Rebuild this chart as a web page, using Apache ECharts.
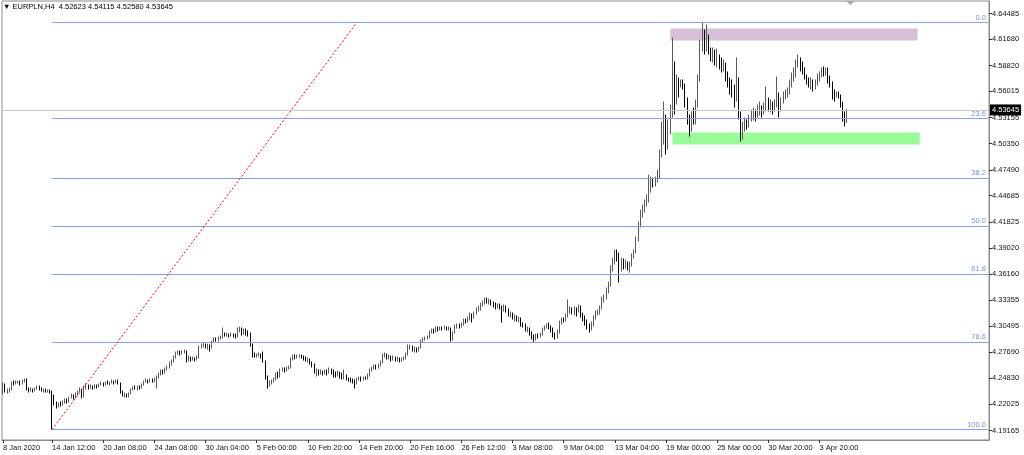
<!DOCTYPE html>
<html><head><meta charset="utf-8">
<script src="https://cdn.jsdelivr.net/npm/echarts@6/dist/echarts.min.js"></script>
<style>html,body{margin:0;padding:0;background:#fff}#c{width:1024px;height:455px}</style>
</head><body><div id="c"></div>
<script>
const symbolName = 'EURPLN,H4';
const timeLabels = ['8 Jan 2020','14 Jan 12:00','20 Jan 08:00','24 Jan 08:00','30 Jan 04:00','5 Feb 00:00','10 Feb 20:00','14 Feb 20:00','20 Feb 16:00','26 Feb 12:00','3 Mar 08:00','9 Mar 04:00','13 Mar 04:00','19 Mar 00:00','25 Mar 00:00','30 Mar 20:00','3 Apr 20:00'];
const timeLabelBars = [0,23,47,71,95,119,143,167,191,215,239,263,287,311,335,359,383];
const totalSlots = 463;
const priceTicks = [4.64485,4.61680,4.58820,4.56015,4.53155,4.50350,4.47490,4.44685,4.41825,4.39020,4.36160,4.33355,4.30495,4.27690,4.24830,4.22025,4.19165];
const priceRange = [4.1813, 4.6584];

const opens = [
4.2329,4.2416,4.2340,4.2351,4.2361,4.2438,4.2427,4.2438,4.2448,4.2427,
4.2459,4.2470,4.2361,4.2351,4.2361,4.2351,4.2372,4.2394,4.2372,4.2351,
4.2361,4.2340,4.2351,4.2340,4.2285,4.2209,4.2188,4.2209,4.2199,4.2220,
4.2242,4.2231,4.2275,4.2296,4.2275,4.2318,4.2340,4.2361,4.2285,4.2372,
4.2405,4.2383,4.2394,4.2383,4.2405,4.2394,4.2416,4.2427,4.2416,4.2438,
4.2427,4.2438,4.2448,4.2438,4.2459,4.2427,4.2340,4.2296,4.2307,4.2285,
4.2318,4.2361,4.2383,4.2372,4.2394,4.2383,4.2416,4.2448,4.2459,4.2448,
4.2470,4.2459,4.2470,4.2492,4.2535,4.2557,4.2546,4.2579,4.2601,4.2644,
4.2666,4.2709,4.2753,4.2764,4.2753,4.2764,4.2774,4.2698,4.2709,4.2688,
4.2698,4.2688,4.2709,4.2818,4.2840,4.2851,4.2829,4.2840,4.2818,4.2883,
4.2905,4.2894,4.2916,4.2927,4.2970,4.2948,4.2959,4.2948,4.2959,4.2948,
4.2937,4.3014,4.3024,4.2970,4.3014,4.2981,4.2959,4.2851,4.2742,4.2720,
4.2731,4.2742,4.2720,4.2666,4.2492,4.2405,4.2438,4.2448,4.2470,4.2525,
4.2503,4.2568,4.2579,4.2568,4.2590,4.2601,4.2688,4.2720,4.2709,4.2720,
4.2731,4.2720,4.2698,4.2677,4.2688,4.2655,4.2622,4.2557,4.2568,4.2546,
4.2557,4.2535,4.2568,4.2546,4.2579,4.2557,4.2535,4.2514,4.2546,4.2525,
4.2492,4.2514,4.2481,4.2470,4.2459,4.2448,4.2427,4.2470,4.2481,4.2470,
4.2492,4.2481,4.2514,4.2568,4.2590,4.2611,4.2601,4.2622,4.2655,4.2720,
4.2742,4.2709,4.2720,4.2698,4.2709,4.2688,4.2698,4.2677,4.2688,4.2698,
4.2742,4.2807,4.2829,4.2796,4.2807,4.2785,4.2818,4.2883,4.2905,4.2916,
4.2927,4.2981,4.3003,4.2992,4.3024,4.3014,4.3035,4.3024,4.3035,4.3014,
4.3024,4.2905,4.2981,4.3046,4.3057,4.3046,4.3068,4.3111,4.3101,4.3133,
4.3166,4.3144,4.3187,4.3231,4.3242,4.3285,4.3307,4.3340,4.3318,4.3329,
4.3296,4.3285,4.3264,4.3274,4.3253,4.3231,4.3264,4.3231,4.3177,4.3187,
4.3144,4.3155,4.3122,4.3133,4.3068,4.3057,4.3014,4.3024,4.2970,4.2937,
4.2905,4.2948,4.2937,4.2959,4.3014,4.3035,4.3057,4.3046,4.3014,4.2959,
4.2927,4.2992,4.3090,4.3122,4.3111,4.3166,4.3209,4.3231,4.3198,4.3242,
4.3209,4.3253,4.3177,4.3144,4.3101,4.3035,4.3014,4.3068,4.3144,4.3187,
4.3198,4.3253,4.3318,4.3361,4.3427,4.3503,4.3666,4.3753,4.3829,4.3796,
4.3687,4.3753,4.3709,4.3742,4.3687,4.3720,4.3807,4.3861,4.3992,4.4155,
4.4263,4.4318,4.4383,4.4426,4.4535,4.4622,4.4589,4.4644,4.4687,4.4915,
4.5078,4.5241,4.5024,4.5187,4.5350,4.5785,4.5513,4.5676,4.5622,4.5709,
4.5665,4.5513,4.5296,4.5187,4.5318,4.5274,4.5459,4.5731,4.6111,4.6220,
4.6057,4.6187,4.6035,4.5970,4.6002,4.5948,4.5991,4.5926,4.5861,4.5894,
4.5752,4.5676,4.5644,4.5600,4.5513,4.5731,4.5350,4.5133,4.5209,4.5252,
4.5231,4.5296,4.5318,4.5350,4.5328,4.5383,4.5405,4.5372,4.5426,4.5513,
4.5426,4.5459,4.5405,4.5448,4.5568,4.5426,4.5491,4.5546,4.5568,4.5600,
4.5676,4.5752,4.5785,4.5894,4.5948,4.5861,4.5839,4.5752,4.5731,4.5676,
4.5709,4.5644,4.5687,4.5752,4.5774,4.5818,4.5785,4.5839,4.5731,4.5665,
4.5568,4.5557,4.5578,4.5546,4.5470,4.5318,4.52623];

const highs = [
4.2438,4.2427,4.2372,4.2383,4.2448,4.2459,4.2459,4.2459,4.2459,4.2470,
4.2481,4.2481,4.2383,4.2383,4.2372,4.2383,4.2405,4.2405,4.2383,4.2372,
4.2372,4.2361,4.2361,4.2351,4.2307,4.2231,4.2220,4.2231,4.2242,4.2264,
4.2264,4.2285,4.2318,4.2307,4.2329,4.2351,4.2383,4.2372,4.2405,4.2427,
4.2416,4.2416,4.2405,4.2416,4.2416,4.2427,4.2448,4.2438,4.2448,4.2459,
4.2448,4.2470,4.2459,4.2470,4.2470,4.2438,4.2351,4.2329,4.2318,4.2329,
4.2372,4.2394,4.2405,4.2405,4.2405,4.2427,4.2459,4.2481,4.2470,4.2481,
4.2481,4.2492,4.2514,4.2546,4.2579,4.2579,4.2601,4.2622,4.2666,4.2688,
4.2731,4.2774,4.2785,4.2785,4.2785,4.2796,4.2785,4.2731,4.2720,4.2720,
4.2709,4.2731,4.2840,4.2861,4.2872,4.2861,4.2861,4.2851,4.2894,4.2927,
4.2927,4.2937,4.2948,4.3035,4.2981,4.2981,4.2970,4.2981,4.2970,4.2970,
4.3035,4.3046,4.3035,4.3024,4.3024,4.3003,4.2981,4.2861,4.2764,4.2753,
4.2764,4.2753,4.2774,4.2677,4.2514,4.2459,4.2470,4.2492,4.2546,4.2557,
4.2590,4.2601,4.2601,4.2611,4.2622,4.2709,4.2742,4.2742,4.2742,4.2742,
4.2742,4.2731,4.2720,4.2709,4.2698,4.2666,4.2644,4.2590,4.2579,4.2579,
4.2568,4.2579,4.2579,4.2601,4.2590,4.2579,4.2557,4.2568,4.2557,4.2546,
4.2579,4.2525,4.2492,4.2492,4.2481,4.2470,4.2492,4.2503,4.2503,4.2503,
4.2503,4.2535,4.2590,4.2611,4.2633,4.2633,4.2644,4.2677,4.2753,4.2764,
4.2753,4.2742,4.2731,4.2731,4.2720,4.2720,4.2709,4.2709,4.2720,4.2764,
4.2851,4.2851,4.2840,4.2829,4.2818,4.2829,4.2905,4.2927,4.2937,4.2948,
4.3003,4.3024,4.3024,4.3046,4.3046,4.3046,4.3046,4.3057,4.3046,4.3046,
4.3035,4.2992,4.3068,4.3079,4.3079,4.3090,4.3133,4.3133,4.3155,4.3198,
4.3187,4.3209,4.3253,4.3274,4.3307,4.3329,4.3361,4.3361,4.3350,4.3340,
4.3318,4.3307,4.3296,4.3296,4.3274,4.3285,4.3274,4.3242,4.3209,4.3198,
4.3177,4.3166,4.3155,4.3144,4.3090,4.3079,4.3046,4.3035,4.2992,4.2959,
4.2970,4.2970,4.2981,4.3035,4.3057,4.3079,4.3090,4.3057,4.3035,4.2981,
4.3014,4.3111,4.3144,4.3144,4.3187,4.3340,4.3264,4.3253,4.3264,4.3253,
4.3285,4.3274,4.3198,4.3166,4.3122,4.3079,4.3101,4.3166,4.3220,4.3231,
4.3274,4.3372,4.3394,4.3470,4.3535,4.3709,4.3796,4.3883,4.3883,4.3850,
4.3796,4.3785,4.3774,4.3753,4.3753,4.3840,4.3883,4.4024,4.4187,4.4318,
4.4372,4.4426,4.4481,4.4698,4.4676,4.4665,4.4676,4.4752,4.4970,4.5274,
4.5491,4.5350,4.5296,4.5459,4.6187,4.5926,4.5785,4.5752,4.5731,4.5731,
4.5687,4.5535,4.5350,4.5383,4.5426,4.5513,4.5785,4.6165,4.6351,4.6274,
4.6328,4.6220,4.6078,4.6078,4.6057,4.6067,4.6002,4.5970,4.5948,4.5915,
4.5818,4.5752,4.5731,4.5676,4.5970,4.5752,4.5383,4.5274,4.5318,4.5296,
4.5350,4.5405,4.5426,4.5405,4.5459,4.5491,4.5448,4.5481,4.5654,4.5535,
4.5513,4.5491,4.5513,4.5763,4.5589,4.5535,4.5600,4.5622,4.5644,4.5731,
4.5807,4.5861,4.5948,4.6002,4.5970,4.5926,4.5861,4.5785,4.5752,4.5752,
4.5731,4.5731,4.5796,4.5818,4.5861,4.5872,4.5861,4.5861,4.5774,4.5709,
4.5622,4.5600,4.5600,4.5568,4.5491,4.5383,4.54115];

const lows = [
4.2307,4.2329,4.2318,4.2329,4.2351,4.2405,4.2416,4.2427,4.2405,4.2416,
4.2438,4.2351,4.2329,4.2340,4.2329,4.2340,4.2361,4.2351,4.2340,4.2329,
4.2329,4.2329,4.2318,4.1927,4.2188,4.2155,4.2166,4.2177,4.2188,4.2209,
4.2209,4.2220,4.2264,4.2253,4.2264,4.2296,4.2329,4.2264,4.2275,4.2361,
4.2361,4.2372,4.2361,4.2372,4.2372,4.2383,4.2405,4.2394,4.2405,4.2416,
4.2405,4.2427,4.2416,4.2427,4.2416,4.2318,4.2285,4.2275,4.2275,4.2275,
4.2307,4.2351,4.2361,4.2351,4.2361,4.2372,4.2405,4.2438,4.2427,4.2438,
4.2438,4.2438,4.2372,4.2481,4.2514,4.2525,4.2535,4.2568,4.2590,4.2622,
4.2655,4.2698,4.2742,4.2731,4.2742,4.2753,4.2655,4.2666,4.2666,4.2677,
4.2666,4.2677,4.2698,4.2807,4.2818,4.2807,4.2796,4.2774,4.2807,4.2872,
4.2883,4.2883,4.2905,4.2916,4.2937,4.2937,4.2927,4.2937,4.2927,4.2916,
4.2927,4.2981,4.2948,4.2959,4.2948,4.2937,4.2829,4.2709,4.2709,4.2709,
4.2720,4.2698,4.2655,4.2470,4.2372,4.2394,4.2416,4.2438,4.2459,4.2481,
4.2492,4.2557,4.2546,4.2557,4.2579,4.2590,4.2677,4.2688,4.2698,4.2709,
4.2698,4.2677,4.2666,4.2655,4.2633,4.2601,4.2535,4.2503,4.2514,4.2525,
4.2514,4.2525,4.2514,4.2535,4.2525,4.2492,4.2492,4.2503,4.2481,4.2470,
4.2470,4.2459,4.2448,4.2438,4.2427,4.2372,4.2416,4.2459,4.2448,4.2459,
4.2470,4.2470,4.2503,4.2557,4.2579,4.2579,4.2590,4.2611,4.2644,4.2709,
4.2688,4.2688,4.2666,4.2677,4.2666,4.2666,4.2655,4.2666,4.2677,4.2688,
4.2731,4.2796,4.2774,4.2764,4.2764,4.2774,4.2807,4.2872,4.2894,4.2905,
4.2916,4.2970,4.2970,4.2981,4.2992,4.3003,4.3003,4.3014,4.3003,4.3003,
4.2883,4.2894,4.2970,4.3024,4.3024,4.3035,4.3057,4.3079,4.3090,4.3111,
4.3090,4.3133,4.3177,4.3209,4.3220,4.3264,4.3285,4.3296,4.3285,4.3274,
4.3253,4.3231,4.3242,4.3231,4.3090,4.3209,4.3198,4.3155,4.3144,4.3122,
4.3101,4.3101,4.3090,4.3046,4.3035,4.2992,4.2981,4.2948,4.2905,4.2872,
4.2894,4.2916,4.2927,4.2948,4.3003,4.3024,4.3014,4.2981,4.2927,4.2905,
4.2916,4.2970,4.3068,4.3090,4.3101,4.3144,4.3187,4.3177,4.3166,4.3155,
4.3198,4.3144,4.3101,4.3057,4.3014,4.2981,4.3003,4.3046,4.3122,4.3166,
4.3177,4.3231,4.3307,4.3340,4.3405,4.3481,4.3644,4.3720,4.3753,4.3524,
4.3644,4.3666,4.3677,4.3655,4.3633,4.3698,4.3785,4.3840,4.3970,4.4122,
4.4231,4.4285,4.4350,4.4394,4.4502,4.4557,4.4568,4.4611,4.4655,4.4883,
4.5024,4.4915,4.4970,4.5133,4.5318,4.5350,4.5459,4.5535,4.5644,4.5622,
4.5426,4.5241,4.5111,4.5165,4.5241,4.5241,4.5426,4.5709,4.6035,4.6002,
4.6035,4.6002,4.5926,4.5915,4.5883,4.5861,4.5839,4.5807,4.5818,4.5709,
4.5644,4.5568,4.5535,4.5426,4.5491,4.5296,4.5057,4.5078,4.5165,4.5187,
4.5209,4.5274,4.5285,4.5274,4.5318,4.5339,4.5318,4.5350,4.5383,4.5383,
4.5372,4.5350,4.5383,4.5426,4.5318,4.5383,4.5470,4.5513,4.5535,4.5568,
4.5644,4.5709,4.5752,4.5861,4.5818,4.5785,4.5731,4.5676,4.5644,4.5622,
4.5600,4.5622,4.5665,4.5709,4.5752,4.5763,4.5774,4.5687,4.5644,4.5513,
4.5491,4.5535,4.5524,4.5426,4.5274,4.5220,4.52580];

const closes = [
4.2416,4.2340,4.2351,4.2361,4.2438,4.2427,4.2438,4.2448,4.2427,4.2459,
4.2470,4.2361,4.2351,4.2361,4.2351,4.2372,4.2394,4.2372,4.2351,4.2361,
4.2340,4.2351,4.2340,4.2285,4.2209,4.2188,4.2209,4.2199,4.2220,4.2242,
4.2231,4.2275,4.2296,4.2275,4.2318,4.2340,4.2361,4.2285,4.2372,4.2405,
4.2383,4.2394,4.2383,4.2405,4.2394,4.2416,4.2427,4.2416,4.2438,4.2427,
4.2438,4.2448,4.2438,4.2459,4.2427,4.2340,4.2296,4.2307,4.2285,4.2318,
4.2361,4.2383,4.2372,4.2394,4.2383,4.2416,4.2448,4.2459,4.2448,4.2470,
4.2459,4.2470,4.2492,4.2535,4.2557,4.2546,4.2579,4.2601,4.2644,4.2666,
4.2709,4.2753,4.2764,4.2753,4.2764,4.2774,4.2698,4.2709,4.2688,4.2698,
4.2688,4.2709,4.2818,4.2840,4.2851,4.2829,4.2840,4.2818,4.2883,4.2905,
4.2894,4.2916,4.2927,4.2970,4.2948,4.2959,4.2948,4.2959,4.2948,4.2937,
4.3014,4.3024,4.2970,4.3014,4.2981,4.2959,4.2851,4.2742,4.2720,4.2731,
4.2742,4.2720,4.2666,4.2492,4.2405,4.2438,4.2448,4.2470,4.2525,4.2503,
4.2568,4.2579,4.2568,4.2590,4.2601,4.2688,4.2720,4.2709,4.2720,4.2731,
4.2720,4.2698,4.2677,4.2688,4.2655,4.2622,4.2557,4.2568,4.2546,4.2557,
4.2535,4.2568,4.2546,4.2579,4.2557,4.2535,4.2514,4.2546,4.2525,4.2492,
4.2514,4.2481,4.2470,4.2459,4.2448,4.2427,4.2470,4.2481,4.2470,4.2492,
4.2481,4.2514,4.2568,4.2590,4.2611,4.2601,4.2622,4.2655,4.2720,4.2742,
4.2709,4.2720,4.2698,4.2709,4.2688,4.2698,4.2677,4.2688,4.2698,4.2742,
4.2807,4.2829,4.2796,4.2807,4.2785,4.2818,4.2883,4.2905,4.2916,4.2927,
4.2981,4.3003,4.2992,4.3024,4.3014,4.3035,4.3024,4.3035,4.3014,4.3024,
4.2905,4.2981,4.3046,4.3057,4.3046,4.3068,4.3111,4.3101,4.3133,4.3166,
4.3144,4.3187,4.3231,4.3242,4.3285,4.3307,4.3340,4.3318,4.3329,4.3296,
4.3285,4.3264,4.3274,4.3253,4.3231,4.3264,4.3231,4.3177,4.3187,4.3144,
4.3155,4.3122,4.3133,4.3068,4.3057,4.3014,4.3024,4.2970,4.2937,4.2905,
4.2948,4.2937,4.2959,4.3014,4.3035,4.3057,4.3046,4.3014,4.2959,4.2927,
4.2992,4.3090,4.3122,4.3111,4.3166,4.3209,4.3231,4.3198,4.3242,4.3209,
4.3253,4.3177,4.3144,4.3101,4.3035,4.3014,4.3068,4.3144,4.3187,4.3198,
4.3253,4.3318,4.3361,4.3427,4.3503,4.3666,4.3753,4.3829,4.3796,4.3687,
4.3753,4.3709,4.3742,4.3687,4.3720,4.3807,4.3861,4.3992,4.4155,4.4263,
4.4318,4.4383,4.4426,4.4535,4.4622,4.4589,4.4644,4.4687,4.4915,4.5078,
4.5241,4.5024,4.5187,4.5350,4.5785,4.5513,4.5676,4.5622,4.5709,4.5665,
4.5513,4.5296,4.5187,4.5318,4.5274,4.5459,4.5731,4.6111,4.6220,4.6057,
4.6187,4.6035,4.5970,4.6002,4.5948,4.5991,4.5926,4.5861,4.5894,4.5752,
4.5676,4.5644,4.5600,4.5513,4.5731,4.5350,4.5133,4.5209,4.5252,4.5231,
4.5296,4.5318,4.5350,4.5328,4.5383,4.5405,4.5372,4.5426,4.5513,4.5426,
4.5459,4.5405,4.5448,4.5568,4.5426,4.5491,4.5546,4.5568,4.5600,4.5676,
4.5752,4.5785,4.5894,4.5948,4.5861,4.5839,4.5752,4.5731,4.5676,4.5709,
4.5644,4.5687,4.5752,4.5774,4.5818,4.5785,4.5839,4.5731,4.5665,4.5568,
4.5557,4.5578,4.5546,4.5470,4.5318,4.52623,4.53645];

// Fibonacci retracement (anchors) and levels
const fibLevels = [0.0, 23.6, 38.2, 50.0, 61.8, 78.6, 100.0];
const fibAnchorBars = [23, 166];
const fibAnchorPrices = [4.1927, 4.6351];
// Zones: [fromBar, toBar, top, bottom]
const resistanceZone = [313, 429, 4.6286, 4.6155];
const supportZone = [314, 430, 4.5155, 4.5024];

const FONT = 'Liberation Sans';
const FS = 7.5;
const fibColor = '#86a0ea';
const fibTextColor = '#7b93dc';

const cats = [];
for (let i = 0; i < totalSlots; i++) cats.push(String(i));
const labelMap = {};
timeLabelBars.forEach((b, k) => { labelMap[b] = timeLabels[k]; });
const candleData = opens.map((o, i) => [o, closes[i], lows[i], highs[i]]);
const last = opens.length - 1;
const fibLow = fibAnchorPrices[0], fibHigh = fibAnchorPrices[1];

const fibLines = fibLevels.map(r => {
  const v = fibHigh - (fibHigh - fibLow) * r / 100;
  return [
    {coord: [fibAnchorBars[0], v], name: r.toFixed(1),
     lineStyle: {color: fibColor, width: 1, type: 'solid', opacity: 1},
     label: {show: true, position: 'insideEndTop', formatter: '{b}', color: fibTextColor, fontSize: FS, fontFamily: FONT, distance: [2, 1]}},
    {coord: [totalSlots - 1, v]}
  ];
});

const chart = echarts.init(document.getElementById('c'), null, {renderer: 'canvas'});
chart.setOption({
  animation: false,
  backgroundColor: '#ffffff',
  textStyle: {fontFamily: FONT},
  title: {
    text: '▼ ' + symbolName + '  ' + [opens[last], highs[last], lows[last], closes[last]].map(v => v.toFixed(5)).join(' '),
    left: 3, top: 3, padding: 0,
    textStyle: {fontSize: FS, fontWeight: 'normal', color: '#000', fontFamily: FONT}
  },
  graphic: [{
    type: 'polygon', shape: {points: [[846, 1], [855, 1], [850.5, 5]]},
    style: {fill: '#a8a8a8'}, silent: true
  }],
  grid: {left: 2, right: 35, top: 1, bottom: 15, show: true, borderColor: '#8c8c8c', borderWidth: 1, backgroundColor: '#fff'},
  xAxis: {
    type: 'category', data: cats, boundaryGap: true,
    axisLine: {show: true, lineStyle: {color: '#8c8c8c'}},
    axisTick: {show: true, alignWithLabel: true, interval: (i) => labelMap[i] !== undefined, length: 3, lineStyle: {color: '#333'}},
    axisLabel: {
      interval: (i) => labelMap[i] !== undefined,
      formatter: (v, i) => labelMap[i] !== undefined ? labelMap[i] : '',
      align: 'left', margin: 4, fontSize: FS, color: '#111', fontFamily: FONT
    },
    splitLine: {show: false}
  },
  yAxis: {
    type: 'value', position: 'right', min: priceRange[0], max: priceRange[1],
    axisLine: {show: true, lineStyle: {color: '#8c8c8c'}},
    axisTick: {show: true, customValues: priceTicks, length: 3, lineStyle: {color: '#333'}},
    axisLabel: {customValues: priceTicks, formatter: v => v.toFixed(5), fontSize: FS, color: '#111', margin: 3, fontFamily: FONT},
    splitLine: {show: false}
  },
  series: [{
    type: 'candlestick',
    data: candleData,
    barWidth: 1,
    itemStyle: {color: '#6e6e6e', color0: '#000', borderColor: '#5a5a5a', borderColor0: '#000', borderWidth: 1},
    markArea: {
      silent: true,
      data: [
        [{coord: [resistanceZone[0], resistanceZone[2]], itemStyle: {color: '#d8bfd8', opacity: 1}}, {coord: [resistanceZone[1], resistanceZone[3]]}],
        [{coord: [supportZone[0], supportZone[2]], itemStyle: {color: '#98fb98', opacity: 1}}, {coord: [supportZone[1], supportZone[3]]}]
      ]
    },
    markLine: {
      silent: true,
      symbol: ['none', 'none'],
      animation: false,
      data: [
        ...fibLines,
        [
          {coord: [fibAnchorBars[0], fibLow], lineStyle: {color: '#ff0000', width: 1, type: [2, 2]}, label: {show: false}},
          {coord: [fibAnchorBars[1], fibHigh]}
        ],
        {
          yAxis: closes[last],
          lineStyle: {color: '#c8c8c8', width: 1, type: 'solid'},
          label: {show: true, position: 'end', distance: 1, formatter: closes[last].toFixed(5),
            backgroundColor: '#000', color: '#fff', fontSize: FS, fontFamily: FONT, padding: [2, 2, 1, 2]}
        }
      ]
    }
  }]
});
</script>
</body></html>
